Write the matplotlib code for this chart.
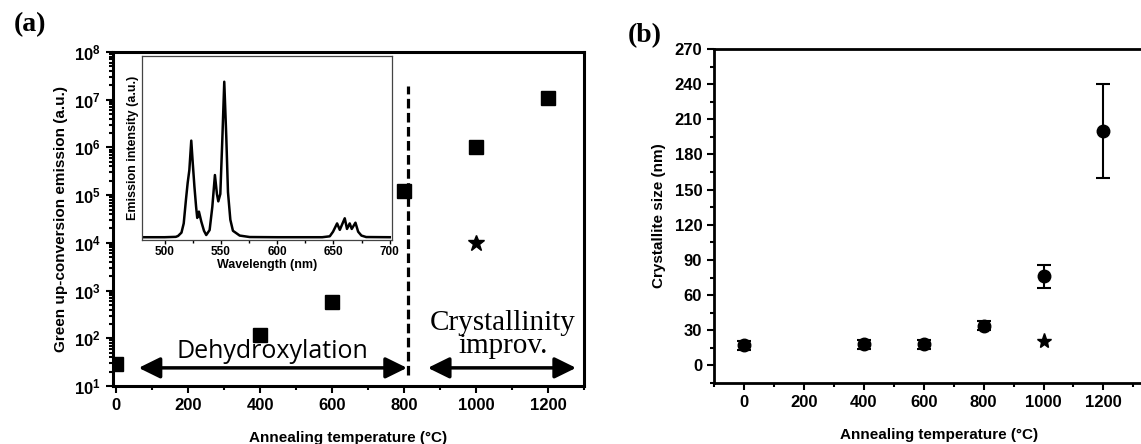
import numpy as np
import matplotlib
matplotlib.use('Agg')
from matplotlib import pyplot as plt
from matplotlib.ticker import FixedLocator, FixedFormatter, MultipleLocator, NullFormatter, LogLocator

plt.rcParams['font.family'] = 'Liberation Sans'
plt.rcParams['font.weight'] = 'bold'
plt.rcParams['axes.labelweight'] = 'bold'
plt.rcParams['mathtext.fontset'] = 'custom'
plt.rcParams['mathtext.rm'] = 'Liberation Sans:bold'
plt.rcParams['mathtext.bf'] = 'Liberation Sans:bold'
plt.rcParams['mathtext.default'] = 'bf'

# panel (a): green up-conversion emission vs annealing temperature
temp_a = [0, 400, 600, 800, 1000, 1200]
emission_a = [29, 117, 590, 1.2e5, 1.0e6, 1.1e7]
star_temp_a = [1000]
star_emission_a = [1.0e4]

# inset spectrum (normalised intensity)
wavelength = [480, 500, 510, 512, 515, 517, 519, 520.5, 522, 523.7, 525, 526.5, 528, 529, 530.5,
              532.6, 535, 537, 540, 542.4, 544.7, 546.5, 547.7, 549.5, 551.3, 553, 554.8,
              556.3, 558.4, 560.7, 566.7, 575.6, 600, 640, 646.7, 649.6, 653.2, 655.6, 660,
              662, 664.4, 666.2, 669.5, 671.9, 674.8, 679, 700]
intensity = [0.015, 0.015, 0.017, 0.022, 0.04, 0.09, 0.22, 0.31, 0.38, 0.54, 0.42, 0.29, 0.18, 0.12, 0.154,
             0.10, 0.05, 0.027, 0.054, 0.18, 0.353, 0.25, 0.21, 0.25, 0.55, 0.86, 0.56,
             0.26, 0.11, 0.05, 0.024, 0.016, 0.015, 0.015, 0.02, 0.045, 0.09, 0.055, 0.118,
             0.06, 0.09, 0.06, 0.094, 0.045, 0.024, 0.016, 0.015]

# panel (b): crystallite size
temp_b = [0, 400, 600, 800, 1000, 1200]
size_b = [17, 18, 18, 34, 76, 200]
err_b = [4, 4, 4, 4, 10, 40]
star_temp_b = [1000]
star_size_b = [21]

fig = plt.figure(figsize=(11.41, 4.44), dpi=100)

# ---------------- (a) ----------------
ax = fig.add_axes([0.0988, 0.1306, 0.4130, 0.7523])
ax.set_yscale('log')
ax.plot(temp_a, emission_a, 's', color='k', markersize=9.5)
ax.plot(star_temp_a, star_emission_a, '*', color='k', markersize=12)
ax.plot([810, 810], [17, 1.9e7], color='k', lw=2.3, ls=(0, (3, 1.4)))

arrow_style = dict(arrowstyle='<|-|>,head_length=0.65,head_width=0.32', lw=2.5, color='k',
                   shrinkA=0, shrinkB=0, mutation_scale=20)
ax.annotate('', xy=(62, 24), xytext=(808, 24), arrowprops=arrow_style)
ax.annotate('', xy=(866, 24), xytext=(1278, 24), arrowprops=arrow_style)
ax.text(433, 52, 'Dehydroxylation', ha='center', va='center', fontsize=18,
        family='Open Sans', fontweight='normal')
ax.text(1075, 120, 'Crystallinity\nimprov.', ha='center', va='center', fontsize=21,
        family='Liberation Serif', fontweight='normal', linespacing=0.82)

ax.set_xlim(-10, 1300)
ax.set_ylim(10, 1e8)
ax.xaxis.set_major_locator(MultipleLocator(200))
ax.xaxis.set_minor_locator(MultipleLocator(100))
y_ticks = [10.0 ** e for e in range(1, 9)]
ax.yaxis.set_major_locator(FixedLocator(y_ticks))
ax.yaxis.set_major_formatter(FixedFormatter(['$10^{%d}$' % e for e in range(1, 9)]))
ax.yaxis.set_minor_locator(LogLocator(base=10, subs=np.arange(2, 10), numticks=20))
ax.yaxis.set_minor_formatter(NullFormatter())
ax.tick_params(which='both', direction='out', width=1.5, labelsize=12, top=False, right=False)
ax.tick_params(which='major', length=5)
ax.tick_params(which='minor', length=3)
for s in ax.spines.values():
    s.set_linewidth(2.2)
ax.set_xlabel('Annealing temperature (°C)', fontsize=11, labelpad=13)
ax.set_ylabel('Green up-conversion emission (a.u.)', fontsize=11, labelpad=4)
fig.text(0.026, 0.945, '(a)', family='Liberation Serif', fontweight='bold', fontsize=20,
         ha='center', va='center')

# inset
ins = fig.add_axes([0.1245, 0.4595, 0.2191, 0.4144])
ins.plot(wavelength, intensity, color='k', lw=1.8)
ins.set_xlim(480, 702)
ins.set_ylim(0, 1)
ins.set_yticks([])
ins.xaxis.set_major_locator(MultipleLocator(50))
ins.xaxis.set_minor_locator(MultipleLocator(25))
ins.tick_params(which='both', direction='out', labelsize=8.5, width=1, pad=1, top=False)
ins.tick_params(which='major', length=3)
ins.tick_params(which='minor', length=2)
for s in ins.spines.values():
    s.set_linewidth(0.9)
    s.set_color('#444444')
ins.set_xlabel('Wavelength (nm)', fontsize=9, labelpad=1)
ins.set_ylabel('Emission intensity (a.u.)', fontsize=9, labelpad=2)

# ---------------- (b) ----------------
bx = fig.add_axes([0.6258, 0.1374, 1.0196 - 0.6258, 0.7522])
bx.errorbar(temp_b, size_b, yerr=err_b, fmt='o', color='k', markersize=9,
            elinewidth=1.5, capsize=5, capthick=1.5)
bx.plot(star_temp_b, star_size_b, '*', color='k', markersize=11)
bx.set_xlim(-100, 1400)
bx.set_ylim(-15, 270)
bx.xaxis.set_major_locator(FixedLocator([0, 200, 400, 600, 800, 1000, 1200]))
bx.xaxis.set_minor_locator(FixedLocator([-100, 100, 300, 500, 700, 900, 1100, 1300]))
bx.yaxis.set_major_locator(MultipleLocator(30))
bx.yaxis.set_minor_locator(MultipleLocator(15))
bx.tick_params(which='both', direction='out', width=1.5, labelsize=12, top=False, right=False)
bx.tick_params(which='major', length=5)
bx.tick_params(which='minor', length=3)
for s in bx.spines.values():
    s.set_linewidth(2)
bx.set_xlabel('Annealing temperature (°C)', fontsize=11, labelpad=13)
bx.set_ylabel('Crystallite size (nm)', fontsize=11, labelpad=6)
fig.text(0.5655, 0.92, '(b)', family='Liberation Serif', fontweight='bold', fontsize=20,
         ha='center', va='center')

fig.savefig('out.png', dpi=100)
